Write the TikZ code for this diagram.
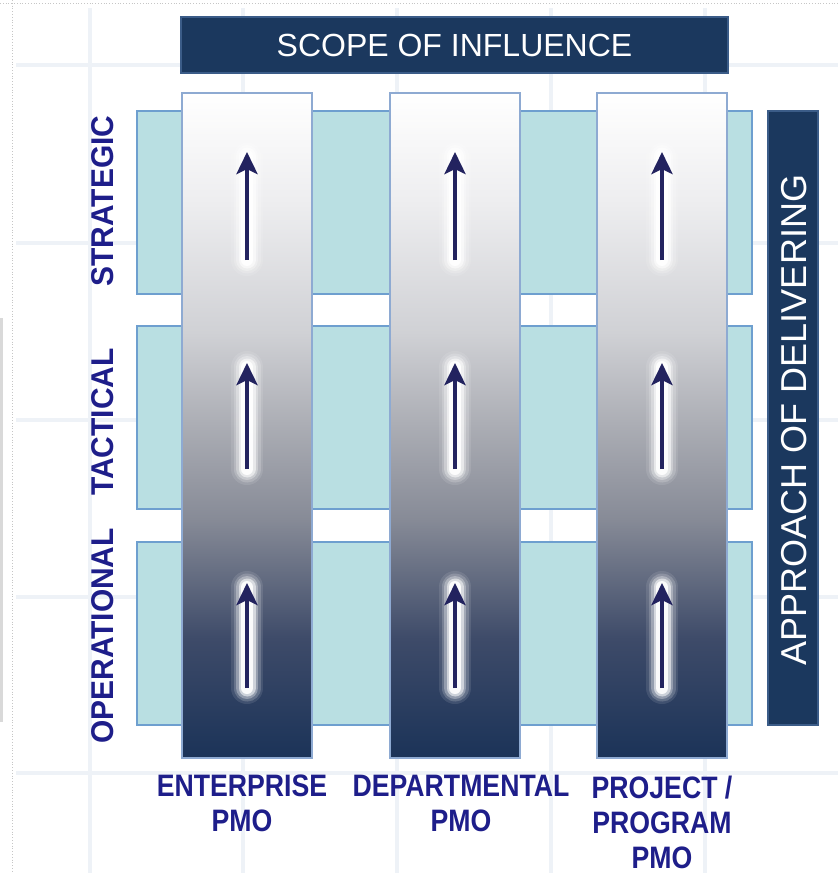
\documentclass[tikz,border=0pt]{standalone}
\usepackage{fontspec}
\setmainfont{Liberation Sans}
\newfontfamily\lblfont[FakeStretch=0.86]{Liberation Sans}
\newfontfamily\sidefont[FakeStretch=0.95]{Liberation Sans}
\usetikzlibrary{arrows.meta}
\definecolor{navybar}{HTML}{1B385E}
\definecolor{navyedge}{HTML}{3B5C88}
\definecolor{tealfill}{HTML}{B9DFE2}
\definecolor{tealedge}{HTML}{6E9FCF}
\definecolor{coledge}{HTML}{8EAAD2}
\definecolor{txtnavy}{HTML}{1E1E8A}
\definecolor{arrnavy}{HTML}{23235F}
\definecolor{gridc}{HTML}{EEF2F7}
\definecolor{shA}{HTML}{1B3358}
\definecolor{shB}{HTML}{3E4B69}
\definecolor{shC}{HTML}{878B97}
\definecolor{shD}{HTML}{ABADB4}
\definecolor{shE}{HTML}{D0D1D5}
\definecolor{shF}{HTML}{EEEEF0}
\pgfdeclareverticalshading{colshade}{100bp}{color(0bp)=(shA); color(25bp)=(shA); color(34bp)=(shB); color(43bp)=(shC); color(50bp)=(shD); color(57bp)=(shE); color(67bp)=(shF); color(75bp)=(white); color(100bp)=(white)}
\tikzset{
  rowbox/.style={draw=tealedge, fill=tealfill, line width=1.6pt, inner sep=0pt, outer sep=0pt, anchor=north west, minimum width=615pt, minimum height=183pt},
  colbox/.style={draw=coledge, shading=colshade, line width=1.6pt, inner sep=0pt, outer sep=0pt, anchor=north west, minimum width=130pt, minimum height=665pt},
  navybox/.style={draw=navyedge, fill=navybar, line width=1.2pt, inner sep=0pt, outer sep=0pt, anchor=north west},
  sidelbl/.style={rotate=90, text=txtnavy, font=\sidefont\bfseries\fontsize{31.5}{35}\selectfont, inner sep=0pt},
  botlbl/.style={anchor=north, align=center, text=txtnavy, font=\lblfont\bfseries\fontsize{31}{35}\selectfont, inner sep=0pt},
  glowline/.style={draw=white, line cap=round},
  uparrow/.style={draw=arrnavy, line width=4.5pt, -{Stealth[length=22pt, width=21pt, inset=5pt]}},
  gridline/.style={draw=gridc, line width=4pt}
}
\begin{document}
\begin{tikzpicture}[x=1pt, y=-1pt]
\useasboundingbox (0,0) rectangle (838,873);
\fill[white] (0,0) rectangle (838,873);
% background grid
\foreach \gy in {65,243,420,597,773} \draw[gridline] (16,\gy) -- (838,\gy);
\foreach \gx in {90,243,397,551,705} \draw[gridline] (\gx,8) -- (\gx,873);
% screen artifacts
\draw[gray!45, line width=0.8pt, dotted] (0,3) -- (838,3);
\draw[gray!45, line width=0.8pt, dotted] (12,0) -- (12,873);
\fill[gray!30] (0,318) rectangle (3,722);
% rows
\node[rowbox] (strat) at (137,111) {};
\node[rowbox] (tact) at (137,326) {};
\node[rowbox] (oper) at (137,542) {};
% columns
\node[colbox] (ent) at (182,93) {};
\node[colbox] (dep) at (390,93) {};
\node[colbox] (proj) at (597,93) {};
% arrows
\foreach \c/\cx in {1/247,2/455,3/662}{
  \foreach \r/\yt/\yb in {1/152/260,2/363/469,3/583/688}{
    \coordinate (t\c\r) at (\cx,\yt);
    \coordinate (b\c\r) at (\cx,\yb);
    \foreach \w/\o in {32/0.10,27/0.18,22/0.3,17/0.55,12/0.9}{
      \draw[glowline, line width=\w pt, opacity=\o] (b\c\r) -- ([yshift=-4pt]t\c\r);
    }
    \draw[uparrow] (b\c\r) -- (t\c\r);
  }
}
% title bar
\node[navybox, minimum width=547pt, minimum height=56pt, text=white, font=\fontsize{32}{36}\selectfont] (title) at (181,17) {SCOPE OF INFLUENCE};
% right bar
\node[navybox, minimum width=50pt, minimum height=614pt] (rbar) at (768,111) {};
\node[rotate=90, text=white, font=\fontsize{36}{40}\selectfont, inner sep=0pt] (rtext) at ([xshift=1pt,yshift=-2pt]rbar.center) {APPROACH OF DELIVERING};
% left labels
\node[sidelbl] (lstrat) at (103,201) {STRATEGIC};
\node[sidelbl] (ltact) at (103,422) {TACTICAL};
\node[sidelbl] (loper) at (103,636) {OPERATIONAL};
% bottom labels
\node[botlbl] (lent) at (242,775) {ENTERPRISE\\PMO};
\node[botlbl] (ldep) at (461,775) {DEPARTMENTAL\\PMO};
\node[botlbl] (lproj) at (662,776) {PROJECT /\\PROGRAM\\PMO};
\end{tikzpicture}
\end{document}
